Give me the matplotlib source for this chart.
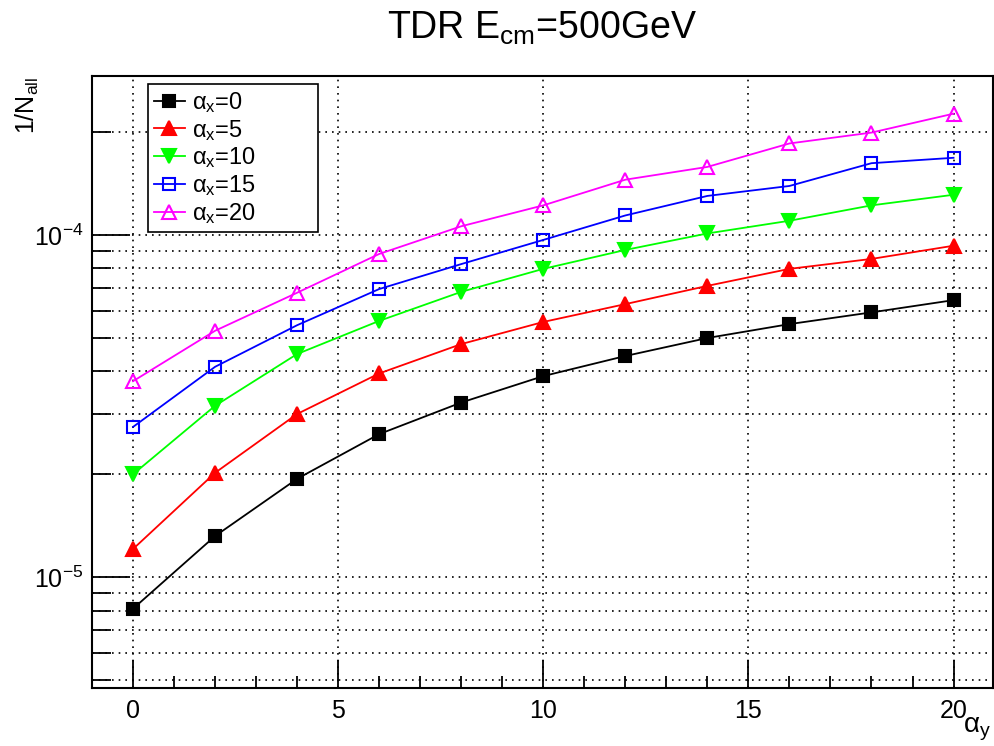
import numpy as np
import matplotlib
matplotlib.use("Agg")
import matplotlib.pyplot as plt
from matplotlib.ticker import FixedLocator, LogLocator, NullFormatter, FixedFormatter

plt.rcParams['font.family'] = ['Liberation Sans', 'DejaVu Sans']
plt.rcParams['mathtext.fontset'] = 'custom'
plt.rcParams['mathtext.rm'] = 'Liberation Sans'
plt.rcParams['mathtext.it'] = 'Liberation Sans'
plt.rcParams['mathtext.default'] = 'regular'

# alpha_y values and 1/N_all for each alpha_x
alpha_y = [0, 2, 4, 6, 8, 10, 12, 14, 16, 18, 20]
ax0 = [8.1e-6, 1.32e-5, 1.94e-5, 2.62e-5, 3.24e-5, 3.87e-5, 4.43e-5, 5.0e-5, 5.49e-5, 5.94e-5, 6.45e-5]
ax5 = [1.21e-5, 2.02e-5, 3.0e-5, 3.94e-5, 4.8e-5, 5.57e-5, 6.28e-5, 7.1e-5, 7.96e-5, 8.51e-5, 9.3e-5]
ax10 = [2.0e-5, 3.17e-5, 4.49e-5, 5.61e-5, 6.82e-5, 7.96e-5, 9.04e-5, 1.01e-4, 1.10e-4, 1.22e-4, 1.31e-4]
ax15 = [2.75e-5, 4.12e-5, 5.45e-5, 6.95e-5, 8.22e-5, 9.67e-5, 1.14e-4, 1.30e-4, 1.39e-4, 1.62e-4, 1.68e-4]
ax20 = [3.74e-5, 5.25e-5, 6.78e-5, 8.8e-5, 1.06e-4, 1.22e-4, 1.45e-4, 1.58e-4, 1.85e-4, 1.99e-4, 2.26e-4]

series = [
    (ax0, '$\\alpha_{x}$=0', 'black', 's', True),
    (ax5, '$\\alpha_{x}$=5', 'red', '^', True),
    (ax10, '$\\alpha_{x}$=10', '#00ff00', 'v', True),
    (ax15, '$\\alpha_{x}$=15', 'blue', 's', False),
    (ax20, '$\\alpha_{x}$=20', 'magenta', '^', False),
]

fig = plt.figure(figsize=(9.95, 7.46), dpi=100)
ax = fig.add_axes([0.0925, 0.0777, 0.905, 0.8203])

for vals, lab, col, mk, filled in series:
    ax.plot(alpha_y, vals, color=col, lw=1.3, marker=mk, markersize=10 if mk != 's' else 9,
            markerfacecolor=col if filled else 'none', markeredgecolor=col,
            markeredgewidth=1.5, label=lab, zorder=3)

ax.set_yscale('log')
ax.set_xlim(-1, 20.95)
ax.set_ylim(4.75e-6, 2.91e-4)

# x ticks
ax.xaxis.set_major_locator(FixedLocator([0, 5, 10, 15, 20]))
ax.xaxis.set_minor_locator(FixedLocator(np.arange(-1, 21, 1)))
# y ticks
ax.yaxis.set_major_locator(FixedLocator([1e-5, 1e-4]))
ax.yaxis.set_major_formatter(FixedFormatter(['$10^{-5}$', '$10^{-4}$']))
ax.yaxis.set_minor_locator(LogLocator(base=10, subs=np.arange(2, 10), numticks=20))
ax.yaxis.set_minor_formatter(NullFormatter())

ax.tick_params(axis='both', which='both', direction='in', top=False, right=False, labelsize=18, width=1.3)
ax.tick_params(axis='x', which='major', length=20, pad=8)
ax.tick_params(axis='x', which='minor', length=9)
ax.tick_params(axis='y', which='major', length=27, pad=6)
ax.tick_params(axis='y', which='minor', length=14)

grid_style = dict(color='black', linestyle=(0, (1, 3)), linewidth=1.2)
ax.xaxis.grid(True, which='major', **grid_style)
ax.yaxis.grid(True, which='both', **grid_style)
ax.set_axisbelow(True)

for sp in ax.spines.values():
    sp.set_linewidth(1.5)

ax.set_title('TDR E$_{cm}$=500GeV', fontsize=27, pad=27)
fig.text(0.028, 0.897, '1/N$_{all}$', rotation=90, fontsize=18, ha='center', va='top')
fig.text(0.982, 0.004, '$\\alpha_{y}$', fontsize=20, ha='center', va='bottom')

leg = ax.legend(loc='upper left', bbox_to_anchor=(0.0622, 0.75, 0.1887, 0.237), mode='expand',
                fontsize=17, frameon=True, fancybox=False, framealpha=1, edgecolor='black',
                handlelength=1.3, handletextpad=0.3, labelspacing=0.12, borderpad=0.25,
                borderaxespad=0)
leg.get_frame().set_linewidth(1.2)

fig.savefig('out.png', dpi=100)
